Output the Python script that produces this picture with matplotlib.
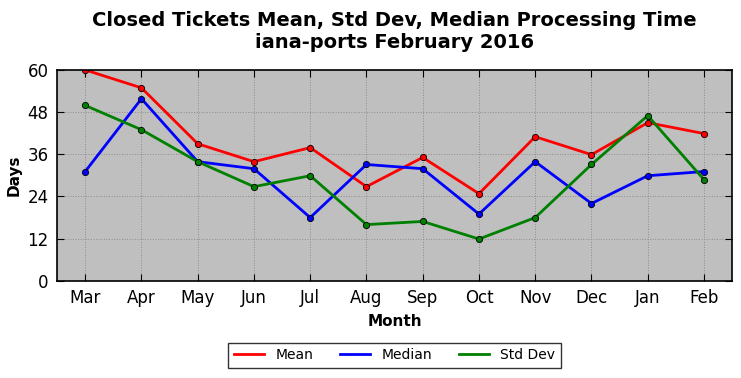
import matplotlib

matplotlib.use("Agg")
import matplotlib.pyplot as plt

MONTHS = ["Mar", "Apr", "May", "Jun", "Jul", "Aug", "Sep", "Oct", "Nov", "Dec", "Jan", "Feb"]
MEAN = [60.0, 54.9, 39.0, 33.9, 37.9, 26.8, 35.1, 24.8, 41.0, 35.9, 45.0, 41.9]
MEDIAN = [31.1, 51.8, 33.9, 31.9, 18.0, 33.1, 31.9, 19.0, 33.9, 22.0, 29.9, 31.1]
STD_DEV = [49.9, 43.0, 33.9, 26.8, 29.9, 16.0, 16.9, 11.9, 18.0, 33.1, 47.0, 28.8]

SERIES = [
    ("Mean", MEAN, "red"),
    ("Median", MEDIAN, "blue"),
    ("Std Dev", STD_DEV, "green"),
]


def main() -> None:
    fig = plt.figure(figsize=(7.41, 3.78), dpi=100)
    ax = fig.add_axes([0.077, 0.257, 0.911, 0.558])
    ax.set_facecolor("#bfbfbf")

    x = list(range(len(MONTHS)))
    for label, values, color in SERIES:
        ax.plot(x, values, color=color, linewidth=2, label=label)
        ax.plot(x, values, linestyle="none", marker="o", markersize=4.5,
                markerfacecolor=color, markeredgecolor="black", markeredgewidth=0.6)

    ax.set_xlim(-0.5, 11.5)
    ax.set_ylim(0, 60)
    ax.set_yticks(range(0, 61, 12))
    ax.set_xticks(x)
    ax.set_xticklabels(MONTHS)
    ax.tick_params(direction="in", labelsize=12, length=5, top=True, right=True, pad=6)
    ax.grid(True, color="#8c8c8c", linestyle=":", linewidth=0.7)
    for spine in ax.spines.values():
        spine.set_linewidth(1.2)

    ax.set_xlabel("Month", fontsize=11, fontweight="bold", labelpad=5)
    ax.set_ylabel("Days", fontsize=11, fontweight="bold")
    ax.set_title("Closed Tickets Mean, Std Dev, Median Processing Time\niana-ports February 2016",
                 fontsize=14, fontweight="bold", pad=16)

    leg = ax.legend(loc="upper center", bbox_to_anchor=(0.5, -0.26), ncol=3, fontsize=10,
                    frameon=True, fancybox=False, edgecolor="black", columnspacing=1.9,
                    handlelength=2.2, borderpad=0.4)
    leg.get_frame().set_linewidth(1.0)

    fig.savefig("out.png", dpi=100)
    plt.close(fig)


if __name__ == "__main__":
    main()
